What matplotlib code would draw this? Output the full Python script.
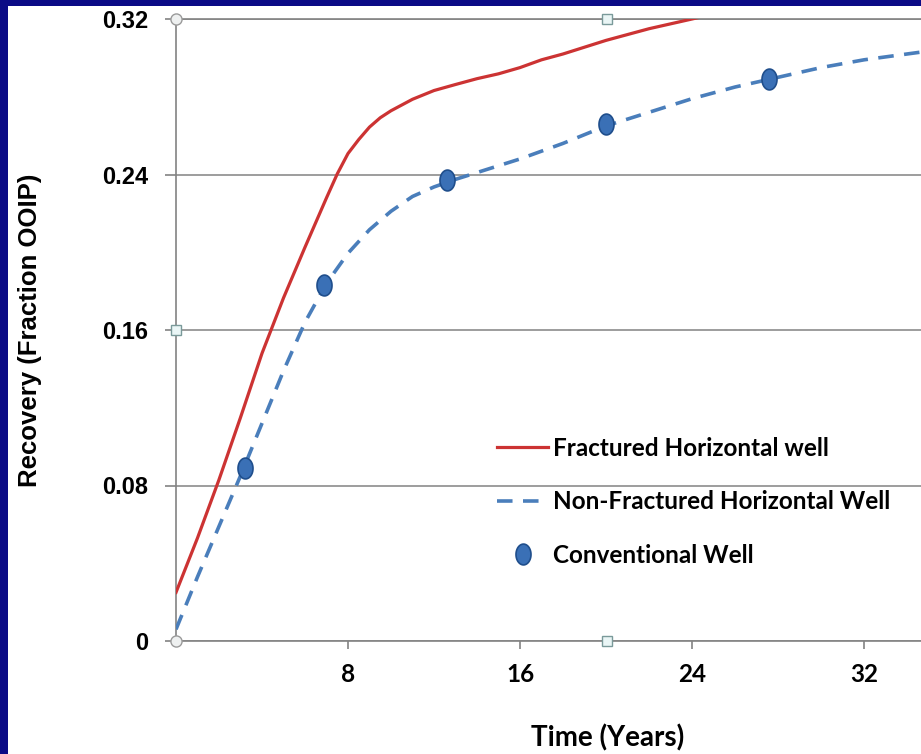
import numpy as np
import matplotlib
matplotlib.use("Agg")
import matplotlib.pyplot as plt
from matplotlib.path import Path
from matplotlib.patches import Rectangle

# data
frac_years = [0, 1, 2, 3, 4, 5, 6, 7, 7.5, 8, 8.5, 9, 9.5, 10, 11, 12, 13, 14, 15, 16, 17, 18,
              20, 22, 24, 26]
frac_recovery = [0.025, 0.053, 0.083, 0.115, 0.148, 0.1765, 0.2026, 0.228, 0.2403, 0.2508, 0.258,
                 0.2644, 0.2692, 0.2728, 0.2787, 0.2832, 0.2863, 0.2893, 0.2918, 0.295, 0.299, 0.302,
                 0.309, 0.315, 0.320, 0.325]

nonfrac_years = [0, 1, 2, 3, 4, 5, 6, 7, 8, 9, 10, 11, 12, 13, 14, 16, 18, 20, 22, 24, 26, 28,
                 30, 32, 34, 36]
nonfrac_recovery = [0.006, 0.033, 0.059, 0.085, 0.112, 0.139, 0.164, 0.184, 0.1995, 0.2116, 0.2211,
                    0.2287, 0.2336, 0.2375, 0.241, 0.248, 0.256, 0.265, 0.272, 0.279, 0.285, 0.290,
                    0.295, 0.299, 0.302, 0.305]

conv_years = [3.2, 6.9, 12.6, 20.0, 27.6]
conv_recovery = [0.089, 0.183, 0.237, 0.266, 0.289]

x_ticks = [8, 16, 24, 32]
y_ticks = [0, 0.08, 0.16, 0.24, 0.32]
y_tick_labels = ["0", "0.08", "0.16", "0.24", "0.32"]

navy = "#0b0b86"
grey = "#838383"

fig = plt.figure(figsize=(9.21, 7.54), dpi=100, facecolor="white")
# navy frame on the left and top
fig.patches.append(Rectangle((0, 0), 8 / 921, 1, transform=fig.transFigure,
                             facecolor=navy, edgecolor="none", zorder=-1))
fig.patches.append(Rectangle((0, 1 - 6 / 754), 1, 6 / 754, transform=fig.transFigure,
                             facecolor=navy, edgecolor="none", zorder=-1))

ax = fig.add_axes([176 / 921, 1 - 641 / 754, 1 - 176 / 921, 622 / 754])
ax.set_facecolor("white")

# elliptical marker like the excel one
t = np.linspace(0, 2 * np.pi, 60)
ellipse = Path(np.column_stack([0.72 * np.cos(t), np.sin(t)]), closed=True)

ax.plot(frac_years, frac_recovery, color="#cc3333", lw=2.3, label="Fractured Horizontal well",
        solid_joinstyle="round", zorder=3)
ax.plot(nonfrac_years, nonfrac_recovery, color="#4a7ebb", lw=2.6, linestyle=(0, (4.3, 2.9)),
        label="Non-Fractured Horizontal Well", zorder=3)
ax.plot(conv_years, conv_recovery, linestyle="none", marker=ellipse, markersize=15,
        markerfacecolor="#3a70b6", markeredgecolor="#1f4e8c", markeredgewidth=1.2,
        label="Conventional Well", zorder=4)

ax.set_xlim(0, 34.65)
ax.set_ylim(0, 0.32)
ax.set_xticks(x_ticks)
ax.set_xticklabels([str(v) for v in x_ticks], fontfamily="Lato", fontweight="bold", fontsize=17.5)
ax.set_yticks(y_ticks)
ax.set_yticklabels(y_tick_labels, fontfamily="Liberation Sans", fontweight="bold", fontsize=17)
ax.tick_params(axis="y", length=8, width=1.2, color=grey, pad=12)
ax.tick_params(axis="x", length=6, width=1.2, color=grey, pad=10)
ax.grid(axis="y", color=grey, lw=1.1, zorder=1)
ax.set_axisbelow(True)
for side in ["left", "bottom", "top"]:
    ax.spines[side].set_color(grey)
    ax.spines[side].set_linewidth(1.2)
ax.spines["right"].set_visible(False)

# excel selection handles
hx = [0, 0, 0, 0.5785, 0.5785]
hy = [0, 1, 0.5, 0, 1]
ax.plot(hx[:2], hy[:2], transform=ax.transAxes, linestyle="none", marker="o", markersize=8,
        markerfacecolor="#eef0f0", markeredgecolor="#9a9a9a", clip_on=False, zorder=6)
ax.plot(hx[2:], hy[2:], transform=ax.transAxes, linestyle="none", marker="s", markersize=6.5,
        markerfacecolor="#eaf6f6", markeredgecolor="#7a9a9a", clip_on=False, zorder=6)

leg = ax.legend(loc="upper left", bbox_to_anchor=((497 - 176) / 745, (641 - 437) / 622),
                frameon=False, borderpad=0, borderaxespad=0, handlelength=2.1,
                handletextpad=0.2, labelspacing=1.25,
                prop={"family": "Lato", "weight": "bold", "size": 17.5})

fig.text(30 / 921, 1 - 330 / 754, "Recovery (Fraction OOIP)", rotation=90, ha="center", va="center",
         fontfamily="Liberation Sans", fontweight="bold", fontsize=18.5)
fig.text(608 / 921, 1 - 738 / 754, "Time (Years)", ha="center", va="center",
         fontfamily="Lato", fontweight="bold", fontsize=20)

fig.savefig("out.png", dpi=100)
